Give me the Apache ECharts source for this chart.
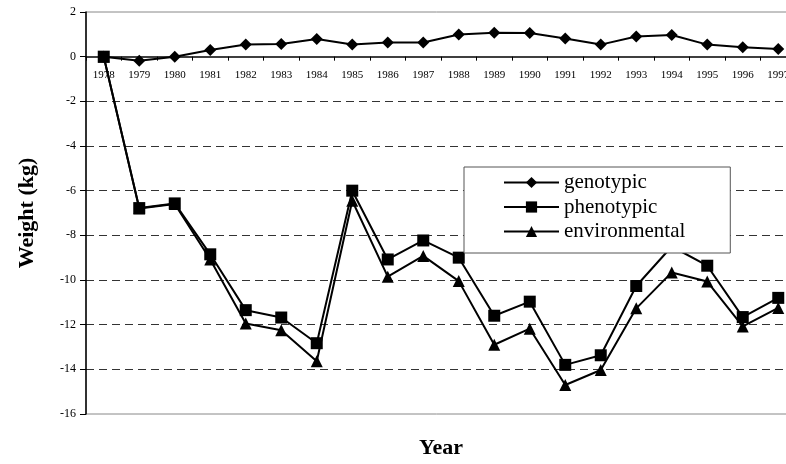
<!DOCTYPE html>
<html>
<head>
<meta charset="utf-8">
<script src="https://cdn.jsdelivr.net/npm/echarts@6/dist/echarts.min.js"></script>
<style>
html,body{margin:0;padding:0;background:#fff;}
#chart{width:786px;height:464px;}
</style>
</head>
<body>
<div id="chart"></div>
<script>
var years = ['1978','1979','1980','1981','1982','1983','1984','1985','1986','1987','1988','1989','1990','1991','1992','1993','1994','1995','1996','1997'];
var genotypic = [0, -0.18, 0, 0.3, 0.54, 0.57, 0.79, 0.54, 0.63, 0.63, 0.99, 1.07, 1.06, 0.81, 0.54, 0.9, 0.97, 0.54, 0.42, 0.34];
var phenotypic = [0, -6.78, -6.57, -8.85, -11.35, -11.68, -12.83, -6.0, -9.08, -8.23, -9.0, -11.6, -10.97, -13.8, -13.37, -10.27, -8.5, -9.36, -11.66, -10.8];
var environmental = [0, -6.8, -6.6, -9.08, -11.95, -12.25, -13.64, -6.45, -9.85, -8.92, -10.05, -12.9, -12.18, -14.7, -14.03, -11.27, -9.66, -10.07, -12.08, -11.25];
var yMin = -16, yMax = 2, yStep = 2;

var serif = '"Liberation Serif", "Times New Roman", serif';
var chart = echarts.init(document.getElementById('chart'), null, {renderer: 'canvas'});

function mkSeries(name, data, symbol) {
  return {
    name: name, type: 'line', data: data,
    symbol: symbol, symbolSize: 12,
    lineStyle: {color: '#000', width: 2},
    itemStyle: {color: '#000'},
    z: 3
  };
}

var gridTop = 12, gridHeight = 402;
// distance from grid bottom up to the value-0 line (axis sits on zero)
var zeroOffset = -gridHeight * (0 - yMin) / (yMax - yMin);

chart.setOption({
  animation: false,
  backgroundColor: '#fff',
  grid: {left: 86, top: gridTop, width: 710, height: gridHeight, containLabel: false, outerBoundsMode: 'none',
    show: true, borderColor: '#888', borderWidth: 1, backgroundColor: 'transparent'},
  legend: {
    orient: 'vertical', left: 464, top: 167,
    padding: [5, 45, 11, 39],
    itemWidth: 55, itemHeight: 14, itemGap: 3.5,
    borderColor: '#555', borderWidth: 1, backgroundColor: '#fff',
    textStyle: {fontFamily: serif, fontSize: 21, color: '#000'},
    data: ['genotypic', 'phenotypic', 'environmental']
  },
  xAxis: {
    type: 'category', data: years, boundaryGap: true,
    position: 'bottom', offset: zeroOffset,
    axisLine: {onZero: false, lineStyle: {color: '#000', width: 1.5}},
    axisTick: {show: true, length: 4, inside: false, lineStyle: {color: '#000'}},
    axisLabel: {fontFamily: serif, fontSize: 11, color: '#000', margin: 13, interval: 0},
    splitLine: {show: false},
    name: 'Year', nameLocation: 'middle', nameGap: 381, nameMoveOverlap: false,
    nameTextStyle: {fontFamily: serif, fontSize: 22, fontWeight: 'bold', color: '#000'}
  },
  yAxis: {
    type: 'value', min: yMin, max: yMax, interval: yStep,
    axisLine: {show: true, lineStyle: {color: '#000', width: 1.5}},
    axisTick: {show: true, length: 6, inside: false, lineStyle: {color: '#000'}},
    axisLabel: {fontFamily: serif, fontSize: 12, color: '#000', margin: 10},
    splitLine: {show: true, lineStyle: {type: [8, 5], width: 1,
      color: ['transparent', '#333', '#333', '#333', '#333', '#333', '#333', '#333', 'transparent', 'transparent']}},
    name: 'Weight (kg)', nameLocation: 'middle', nameGap: 48, nameRotate: 90, nameMoveOverlap: false,
    nameTextStyle: {fontFamily: serif, fontSize: 22, fontWeight: 'bold', color: '#000'}
  },
  series: [
    mkSeries('genotypic', genotypic, 'diamond'),
    mkSeries('environmental', environmental, 'triangle'),
    mkSeries('phenotypic', phenotypic, 'rect')
  ]
});
</script>
</body>
</html>
